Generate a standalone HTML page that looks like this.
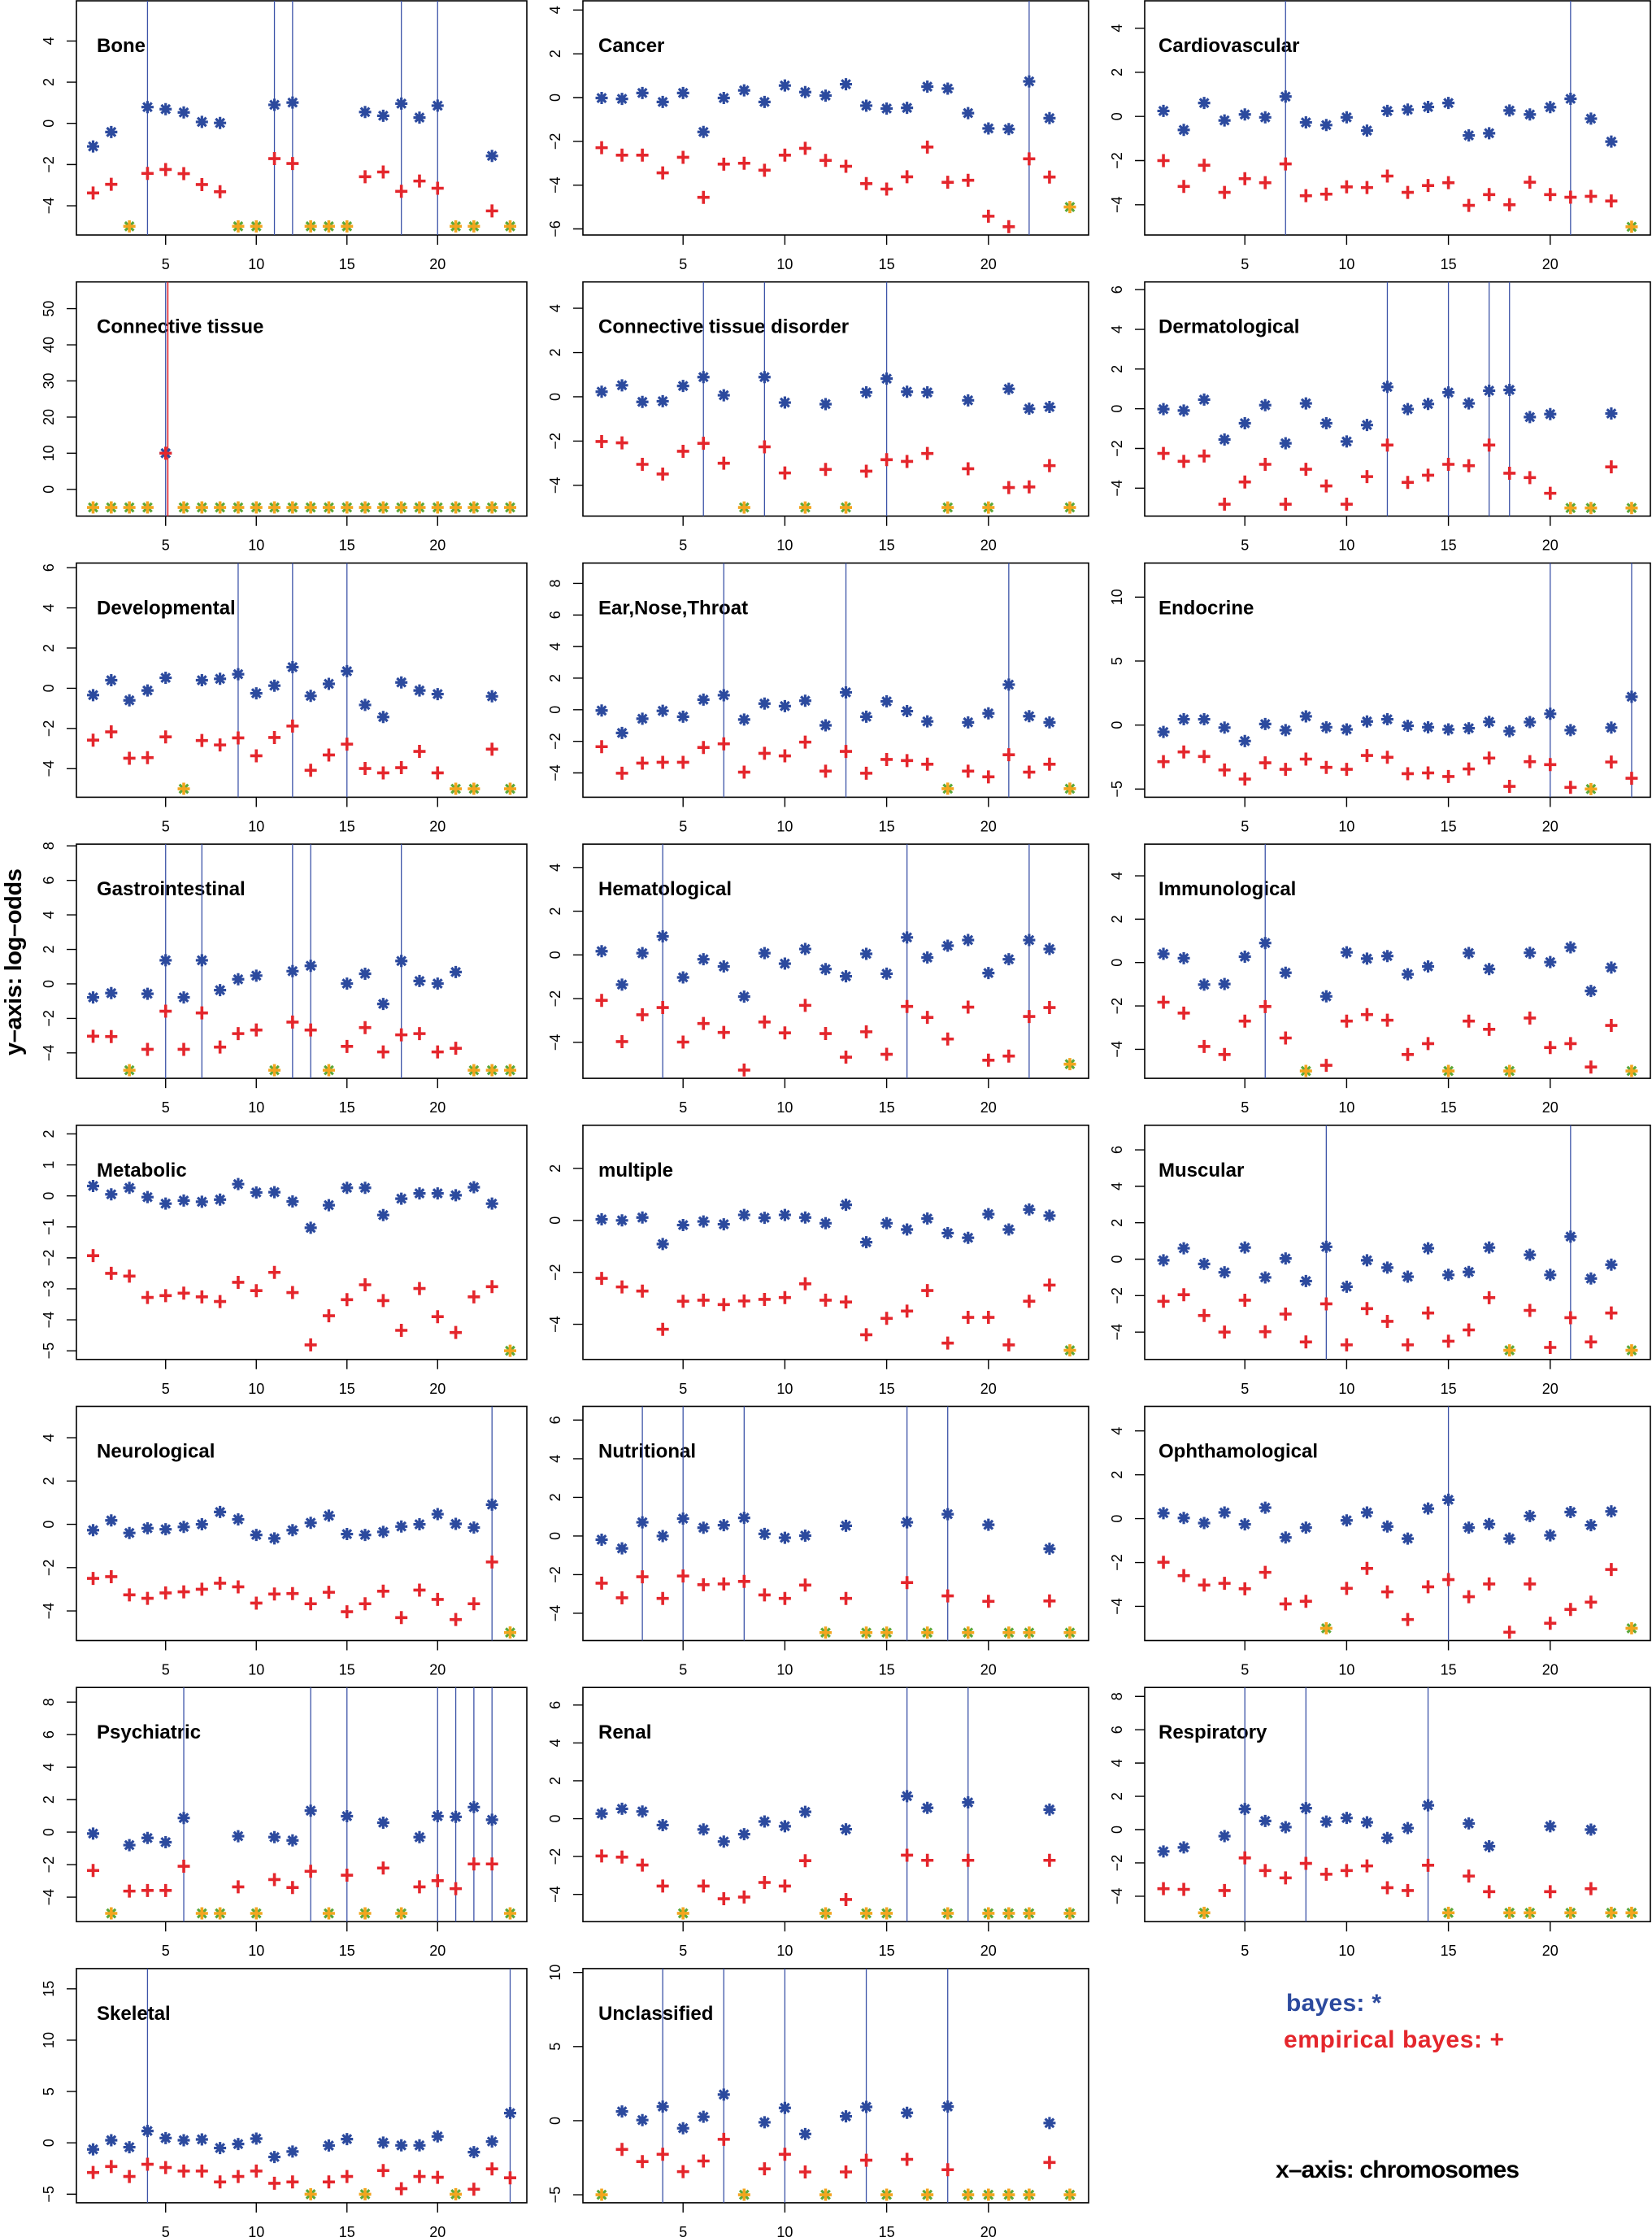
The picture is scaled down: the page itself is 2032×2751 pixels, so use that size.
<!DOCTYPE html>
<html><head><meta charset="utf-8"><style>
html,body{margin:0;padding:0;background:#fff}
svg{display:block}
text{font-family:"Liberation Sans",Arial,Helvetica,sans-serif;fill:#000}
.bx{fill:none;stroke:#000;stroke-width:1.6}
.tk{stroke:#000;stroke-width:1.4;fill:none}
.xl{font-size:18px;text-anchor:middle}
.yl{font-size:18px;text-anchor:middle}
.tt{font-size:24px;font-weight:bold}
.vl{stroke:#3D54A8;stroke-width:1.3;vector-effect:non-scaling-stroke;fill:none}
.vr{stroke:#E4262C;stroke-width:1.6;vector-effect:non-scaling-stroke;fill:none}
</style></head><body>
<svg xmlns="http://www.w3.org/2000/svg" xmlns:xlink="http://www.w3.org/1999/xlink" width="2032" height="2751" viewBox="0 0 2032 2751">
<defs>
<path id="B" d="M-7.5 0H7.5M0-7.5V7.5M-5.3-5.3L5.3 5.3M-5.3 5.3L5.3-5.3" fill="none" stroke="#2C4A9E" stroke-width="3.2"/>
<path id="R" d="M-7.5 0H7.5M0-8V8" fill="none" stroke="#E4262C" stroke-width="3.6"/>
<g id="Y"><path d="M-5.3-5.3L5.3 5.3M-5.3 5.3L5.3-5.3" fill="none" stroke="#5BA83A" stroke-width="3.2"/><path d="M-7.5 0H7.5M0-7.5V7.5" fill="none" stroke="#F3A51E" stroke-width="3.6"/></g>
<g id="b1" transform="scale(0.044838,-0.039479)"><use href="#B"/></g><g id="r1" transform="scale(0.044838,-0.039479)"><use href="#R"/></g><g id="y1" transform="scale(0.044838,-0.039479)"><use href="#Y"/></g>
<g id="b2" transform="scale(0.039936,-0.037153)"><use href="#B"/></g><g id="r2" transform="scale(0.039936,-0.037153)"><use href="#R"/></g><g id="y2" transform="scale(0.039936,-0.037153)"><use href="#Y"/></g>
<g id="b3" transform="scale(0.039936,-0.03684)"><use href="#B"/></g><g id="r3" transform="scale(0.039936,-0.03684)"><use href="#R"/></g><g id="y3" transform="scale(0.039936,-0.03684)"><use href="#Y"/></g>
<g id="b4" transform="scale(0.044838,-0.225)"><use href="#B"/></g><g id="r4" transform="scale(0.044838,-0.225)"><use href="#R"/></g><g id="y4" transform="scale(0.044838,-0.225)"><use href="#Y"/></g>
<g id="b5" transform="scale(0.039936,-0.036736)"><use href="#B"/></g><g id="r5" transform="scale(0.039936,-0.036736)"><use href="#R"/></g><g id="y5" transform="scale(0.039936,-0.036736)"><use href="#Y"/></g>
<g id="b6" transform="scale(0.039936,-0.040972)"><use href="#B"/></g><g id="r6" transform="scale(0.039936,-0.040972)"><use href="#R"/></g><g id="y6" transform="scale(0.039936,-0.040972)"><use href="#Y"/></g>
<g id="b7" transform="scale(0.044838,-0.040451)"><use href="#B"/></g><g id="r7" transform="scale(0.044838,-0.040451)"><use href="#R"/></g><g id="y7" transform="scale(0.044838,-0.040451)"><use href="#Y"/></g>
<g id="b8" transform="scale(0.039936,-0.051493)"><use href="#B"/></g><g id="r8" transform="scale(0.039936,-0.051493)"><use href="#R"/></g><g id="y8" transform="scale(0.039936,-0.051493)"><use href="#Y"/></g>
<g id="b9" transform="scale(0.039936,-0.063542)"><use href="#B"/></g><g id="r9" transform="scale(0.039936,-0.063542)"><use href="#R"/></g><g id="y9" transform="scale(0.039936,-0.063542)"><use href="#Y"/></g>
<g id="b10" transform="scale(0.044838,-0.047118)"><use href="#B"/></g><g id="r10" transform="scale(0.044838,-0.047118)"><use href="#R"/></g><g id="y10" transform="scale(0.044838,-0.047118)"><use href="#Y"/></g>
<g id="b11" transform="scale(0.039936,-0.037222)"><use href="#B"/></g><g id="r11" transform="scale(0.039936,-0.037222)"><use href="#R"/></g><g id="y11" transform="scale(0.039936,-0.037222)"><use href="#Y"/></g>
<g id="b12" transform="scale(0.039936,-0.0375)"><use href="#B"/></g><g id="r12" transform="scale(0.039936,-0.0375)"><use href="#R"/></g><g id="y12" transform="scale(0.039936,-0.0375)"><use href="#Y"/></g>
<g id="b13" transform="scale(0.044838,-0.02625)"><use href="#B"/></g><g id="r13" transform="scale(0.044838,-0.02625)"><use href="#R"/></g><g id="y13" transform="scale(0.044838,-0.02625)"><use href="#Y"/></g>
<g id="b14" transform="scale(0.039936,-0.031285)"><use href="#B"/></g><g id="r14" transform="scale(0.039936,-0.031285)"><use href="#R"/></g><g id="y14" transform="scale(0.039936,-0.031285)"><use href="#Y"/></g>
<g id="b15" transform="scale(0.039936,-0.044618)"><use href="#B"/></g><g id="r15" transform="scale(0.039936,-0.044618)"><use href="#R"/></g><g id="y15" transform="scale(0.039936,-0.044618)"><use href="#Y"/></g>
<g id="b16" transform="scale(0.044838,-0.037569)"><use href="#B"/></g><g id="r16" transform="scale(0.044838,-0.037569)"><use href="#R"/></g><g id="y16" transform="scale(0.044838,-0.037569)"><use href="#Y"/></g>
<g id="b17" transform="scale(0.039936,-0.042083)"><use href="#B"/></g><g id="r17" transform="scale(0.039936,-0.042083)"><use href="#R"/></g><g id="y17" transform="scale(0.039936,-0.042083)"><use href="#Y"/></g>
<g id="b18" transform="scale(0.039936,-0.037083)"><use href="#B"/></g><g id="r18" transform="scale(0.039936,-0.037083)"><use href="#R"/></g><g id="y18" transform="scale(0.039936,-0.037083)"><use href="#Y"/></g>
<g id="b19" transform="scale(0.044838,-0.050035)"><use href="#B"/></g><g id="r19" transform="scale(0.044838,-0.050035)"><use href="#R"/></g><g id="y19" transform="scale(0.044838,-0.050035)"><use href="#Y"/></g>
<g id="b20" transform="scale(0.039936,-0.042951)"><use href="#B"/></g><g id="r20" transform="scale(0.039936,-0.042951)"><use href="#R"/></g><g id="y20" transform="scale(0.039936,-0.042951)"><use href="#Y"/></g>
<g id="b21" transform="scale(0.039936,-0.048854)"><use href="#B"/></g><g id="r21" transform="scale(0.039936,-0.048854)"><use href="#R"/></g><g id="y21" transform="scale(0.039936,-0.048854)"><use href="#Y"/></g>
<g id="b22" transform="scale(0.044838,-0.079167)"><use href="#B"/></g><g id="r22" transform="scale(0.044838,-0.079167)"><use href="#R"/></g><g id="y22" transform="scale(0.044838,-0.079167)"><use href="#Y"/></g>
<g id="b23" transform="scale(0.039936,-0.054861)"><use href="#B"/></g><g id="r23" transform="scale(0.039936,-0.054861)"><use href="#R"/></g><g id="y23" transform="scale(0.039936,-0.054861)"><use href="#Y"/></g>
</defs>
<rect x="0" y="0" width="2032" height="2751" fill="#fff"/>

<!-- P1 Bone -->
<g transform="translate(94,1)">
<rect class="bx" width="554" height="288"/>
<path class="tk" d="M109.73 288v12M221.25 288v12M332.76 288v12M444.28 288v12M-12 49.39h12M-12 100.05h12M-12 150.71h12M-12 201.37h12M-12 252.03h12"/>
<text class="xl" x="109.73" y="330">5</text><text class="xl" x="221.25" y="330">10</text><text class="xl" x="332.76" y="330">15</text><text class="xl" x="444.28" y="330">20</text>
<text class="yl" transform="translate(-28,49.39) rotate(-90)">4</text><text class="yl" transform="translate(-28,100.05) rotate(-90)">2</text><text class="yl" transform="translate(-28,150.71) rotate(-90)">0</text><text class="yl" transform="translate(-28,201.37) rotate(-90)">−2</text><text class="yl" transform="translate(-28,252.03) rotate(-90)">−4</text>
<text class="tt" x="25" y="63">Bone</text>
<g transform="matrix(22.303,0,0,-25.33,-1.784,150.71)">
<path class="vl" d="M4 -5.42V5.95M11 -5.42V5.95M12 -5.42V5.95M18 -5.42V5.95M20 -5.42V5.95"/>
<use href="#b1" x="1" y="-1.12"/><use href="#b1" x="2" y="-0.42"/><use href="#b1" x="4" y="0.79"/><use href="#b1" x="5" y="0.69"/><use href="#b1" x="6" y="0.53"/><use href="#b1" x="7" y="0.07"/><use href="#b1" x="8" y="0.02"/><use href="#b1" x="11" y="0.9"/><use href="#b1" x="12" y="1.01"/><use href="#b1" x="16" y="0.55"/><use href="#b1" x="17" y="0.37"/><use href="#b1" x="18" y="0.96"/><use href="#b1" x="19" y="0.28"/><use href="#b1" x="20" y="0.86"/><use href="#b1" x="23" y="-1.58"/>
<use href="#r1" x="1" y="-3.38"/><use href="#r1" x="2" y="-2.96"/><use href="#r1" x="4" y="-2.43"/><use href="#r1" x="5" y="-2.24"/><use href="#r1" x="6" y="-2.44"/><use href="#r1" x="7" y="-2.97"/><use href="#r1" x="8" y="-3.32"/><use href="#r1" x="11" y="-1.71"/><use href="#r1" x="12" y="-1.95"/><use href="#r1" x="16" y="-2.59"/><use href="#r1" x="17" y="-2.36"/><use href="#r1" x="18" y="-3.3"/><use href="#r1" x="19" y="-2.8"/><use href="#r1" x="20" y="-3.15"/><use href="#r1" x="23" y="-4.25"/>
<use href="#y1" x="3" y="-5"/><use href="#y1" x="9" y="-5"/><use href="#y1" x="10" y="-5"/><use href="#y1" x="13" y="-5"/><use href="#y1" x="14" y="-5"/><use href="#y1" x="15" y="-5"/><use href="#y1" x="21" y="-5"/><use href="#y1" x="22" y="-5"/><use href="#y1" x="24" y="-5"/>
</g></g>

<!-- P2 Cancer -->
<g transform="translate(717,1)">
<rect class="bx" width="622" height="288"/>
<path class="tk" d="M123.2 288v12M248.4 288v12M373.6 288v12M498.8 288v12M-12 11.31h12M-12 65.15h12M-12 118.99h12M-12 172.83h12M-12 226.67h12M-12 280.51h12"/>
<text class="xl" x="123.2" y="330">5</text><text class="xl" x="248.4" y="330">10</text><text class="xl" x="373.6" y="330">15</text><text class="xl" x="498.8" y="330">20</text>
<text class="yl" transform="translate(-28,11.31) rotate(-90)">4</text><text class="yl" transform="translate(-28,65.15) rotate(-90)">2</text><text class="yl" transform="translate(-28,118.99) rotate(-90)">0</text><text class="yl" transform="translate(-28,172.83) rotate(-90)">−2</text><text class="yl" transform="translate(-28,226.67) rotate(-90)">−4</text><text class="yl" transform="translate(-28,280.51) rotate(-90)">−6</text>
<text class="tt" x="19" y="63">Cancer</text>
<g transform="matrix(25.04,0,0,-26.916,-2.003,118.99)">
<path class="vl" d="M22 -6.28V4.42"/>
<use href="#b2" x="1" y="-0.02"/><use href="#b2" x="2" y="-0.06"/><use href="#b2" x="3" y="0.21"/><use href="#b2" x="4" y="-0.2"/><use href="#b2" x="5" y="0.21"/><use href="#b2" x="6" y="-1.57"/><use href="#b2" x="7" y="-0.02"/><use href="#b2" x="8" y="0.33"/><use href="#b2" x="9" y="-0.2"/><use href="#b2" x="10" y="0.55"/><use href="#b2" x="11" y="0.25"/><use href="#b2" x="12" y="0.09"/><use href="#b2" x="13" y="0.61"/><use href="#b2" x="14" y="-0.37"/><use href="#b2" x="15" y="-0.5"/><use href="#b2" x="16" y="-0.47"/><use href="#b2" x="17" y="0.5"/><use href="#b2" x="18" y="0.41"/><use href="#b2" x="19" y="-0.71"/><use href="#b2" x="20" y="-1.41"/><use href="#b2" x="21" y="-1.44"/><use href="#b2" x="22" y="0.74"/><use href="#b2" x="23" y="-0.94"/>
<use href="#r2" x="1" y="-2.29"/><use href="#r2" x="2" y="-2.63"/><use href="#r2" x="3" y="-2.63"/><use href="#r2" x="4" y="-3.44"/><use href="#r2" x="5" y="-2.73"/><use href="#r2" x="6" y="-4.56"/><use href="#r2" x="7" y="-3.04"/><use href="#r2" x="8" y="-3"/><use href="#r2" x="9" y="-3.32"/><use href="#r2" x="10" y="-2.63"/><use href="#r2" x="11" y="-2.32"/><use href="#r2" x="12" y="-2.87"/><use href="#r2" x="13" y="-3.14"/><use href="#r2" x="14" y="-3.93"/><use href="#r2" x="15" y="-4.18"/><use href="#r2" x="16" y="-3.62"/><use href="#r2" x="17" y="-2.26"/><use href="#r2" x="18" y="-3.87"/><use href="#r2" x="19" y="-3.78"/><use href="#r2" x="20" y="-5.42"/><use href="#r2" x="21" y="-5.9"/><use href="#r2" x="22" y="-2.8"/><use href="#r2" x="23" y="-3.63"/>
<use href="#y2" x="24" y="-5"/>
</g></g>

<!-- P3 Cardiovascular -->
<g transform="translate(1408,1)">
<rect class="bx" width="622" height="288"/>
<path class="tk" d="M123.2 288v12M248.4 288v12M373.6 288v12M498.8 288v12M-12 33.65h12M-12 87.93h12M-12 142.21h12M-12 196.49h12M-12 250.77h12"/>
<text class="xl" x="123.2" y="330">5</text><text class="xl" x="248.4" y="330">10</text><text class="xl" x="373.6" y="330">15</text><text class="xl" x="498.8" y="330">20</text>
<text class="yl" transform="translate(-28,33.65) rotate(-90)">4</text><text class="yl" transform="translate(-28,87.93) rotate(-90)">2</text><text class="yl" transform="translate(-28,142.21) rotate(-90)">0</text><text class="yl" transform="translate(-28,196.49) rotate(-90)">−2</text><text class="yl" transform="translate(-28,250.77) rotate(-90)">−4</text>
<text class="tt" x="17" y="63">Cardiovascular</text>
<g transform="matrix(25.04,0,0,-27.144,-2.003,142.21)">
<path class="vl" d="M7 -5.37V5.24M21 -5.37V5.24"/>
<use href="#b3" x="1" y="0.25"/><use href="#b3" x="2" y="-0.61"/><use href="#b3" x="3" y="0.61"/><use href="#b3" x="4" y="-0.18"/><use href="#b3" x="5" y="0.09"/><use href="#b3" x="6" y="-0.04"/><use href="#b3" x="7" y="0.9"/><use href="#b3" x="8" y="-0.27"/><use href="#b3" x="9" y="-0.39"/><use href="#b3" x="10" y="-0.04"/><use href="#b3" x="11" y="-0.64"/><use href="#b3" x="12" y="0.25"/><use href="#b3" x="13" y="0.31"/><use href="#b3" x="14" y="0.43"/><use href="#b3" x="15" y="0.61"/><use href="#b3" x="16" y="-0.86"/><use href="#b3" x="17" y="-0.76"/><use href="#b3" x="18" y="0.27"/><use href="#b3" x="19" y="0.09"/><use href="#b3" x="20" y="0.42"/><use href="#b3" x="21" y="0.8"/><use href="#b3" x="22" y="-0.1"/><use href="#b3" x="23" y="-1.14"/>
<use href="#r3" x="1" y="-2"/><use href="#r3" x="2" y="-3.17"/><use href="#r3" x="3" y="-2.21"/><use href="#r3" x="4" y="-3.44"/><use href="#r3" x="5" y="-2.82"/><use href="#r3" x="6" y="-3"/><use href="#r3" x="7" y="-2.15"/><use href="#r3" x="8" y="-3.59"/><use href="#r3" x="9" y="-3.52"/><use href="#r3" x="10" y="-3.19"/><use href="#r3" x="11" y="-3.22"/><use href="#r3" x="12" y="-2.7"/><use href="#r3" x="13" y="-3.44"/><use href="#r3" x="14" y="-3.13"/><use href="#r3" x="15" y="-3"/><use href="#r3" x="16" y="-4.03"/><use href="#r3" x="17" y="-3.54"/><use href="#r3" x="18" y="-4"/><use href="#r3" x="19" y="-2.98"/><use href="#r3" x="20" y="-3.54"/><use href="#r3" x="21" y="-3.66"/><use href="#r3" x="22" y="-3.62"/><use href="#r3" x="23" y="-3.83"/>
<use href="#y3" x="24" y="-5"/>
</g></g>

<!-- P4 Connective tissue -->
<g transform="translate(94,346.7)">
<rect class="bx" width="554" height="288"/>
<path class="tk" d="M109.73 288v12M221.25 288v12M332.76 288v12M444.28 288v12M-12 32.89h12M-12 77.33h12M-12 121.77h12M-12 166.21h12M-12 210.65h12M-12 255.09h12"/>
<text class="xl" x="109.73" y="330">5</text><text class="xl" x="221.25" y="330">10</text><text class="xl" x="332.76" y="330">15</text><text class="xl" x="444.28" y="330">20</text>
<text class="yl" transform="translate(-28,32.89) rotate(-90)">50</text><text class="yl" transform="translate(-28,77.33) rotate(-90)">40</text><text class="yl" transform="translate(-28,121.77) rotate(-90)">30</text><text class="yl" transform="translate(-28,166.21) rotate(-90)">20</text><text class="yl" transform="translate(-28,210.65) rotate(-90)">10</text><text class="yl" transform="translate(-28,255.09) rotate(-90)">0</text>
<text class="tt" x="25" y="63">Connective tissue</text>
<g transform="matrix(22.303,0,0,-4.4444,-1.784,255.11)">
<path class="vl" d="M5 -7.4V57.4"/>
<path class="vr" d="M5.12 -7.4V57.4"/>
<use href="#b4" x="5" y="10"/><use href="#r4" x="5" y="10"/>
<use href="#y4" x="1" y="-5"/><use href="#y4" x="2" y="-5"/><use href="#y4" x="3" y="-5"/><use href="#y4" x="4" y="-5"/><use href="#y4" x="6" y="-5"/><use href="#y4" x="7" y="-5"/><use href="#y4" x="8" y="-5"/><use href="#y4" x="9" y="-5"/><use href="#y4" x="10" y="-5"/><use href="#y4" x="11" y="-5"/><use href="#y4" x="12" y="-5"/><use href="#y4" x="13" y="-5"/><use href="#y4" x="14" y="-5"/><use href="#y4" x="15" y="-5"/><use href="#y4" x="16" y="-5"/><use href="#y4" x="17" y="-5"/><use href="#y4" x="18" y="-5"/><use href="#y4" x="19" y="-5"/><use href="#y4" x="20" y="-5"/><use href="#y4" x="21" y="-5"/><use href="#y4" x="22" y="-5"/><use href="#y4" x="23" y="-5"/><use href="#y4" x="24" y="-5"/>
</g></g>

<!-- P5 Connective tissue disorder -->
<g transform="translate(717,346.7)">
<rect class="bx" width="622" height="288"/>
<path class="tk" d="M123.2 288v12M248.4 288v12M373.6 288v12M498.8 288v12M-12 32.39h12M-12 86.83h12M-12 141.27h12M-12 195.71h12M-12 250.15h12"/>
<text class="xl" x="123.2" y="330">5</text><text class="xl" x="248.4" y="330">10</text><text class="xl" x="373.6" y="330">15</text><text class="xl" x="498.8" y="330">20</text>
<text class="yl" transform="translate(-28,32.39) rotate(-90)">4</text><text class="yl" transform="translate(-28,86.83) rotate(-90)">2</text><text class="yl" transform="translate(-28,141.27) rotate(-90)">0</text><text class="yl" transform="translate(-28,195.71) rotate(-90)">−2</text><text class="yl" transform="translate(-28,250.15) rotate(-90)">−4</text>
<text class="tt" x="19" y="63">Connective tissue disorder</text>
<g transform="matrix(25.04,0,0,-27.221,-2.003,141.28)">
<path class="vl" d="M6 -5.39V5.19M9 -5.39V5.19M15 -5.39V5.19"/>
<use href="#b5" x="1" y="0.23"/><use href="#b5" x="2" y="0.52"/><use href="#b5" x="3" y="-0.23"/><use href="#b5" x="4" y="-0.2"/><use href="#b5" x="5" y="0.49"/><use href="#b5" x="6" y="0.89"/><use href="#b5" x="7" y="0.07"/><use href="#b5" x="9" y="0.89"/><use href="#b5" x="10" y="-0.26"/><use href="#b5" x="12" y="-0.33"/><use href="#b5" x="14" y="0.2"/><use href="#b5" x="15" y="0.82"/><use href="#b5" x="16" y="0.23"/><use href="#b5" x="17" y="0.2"/><use href="#b5" x="19" y="-0.16"/><use href="#b5" x="21" y="0.36"/><use href="#b5" x="22" y="-0.54"/><use href="#b5" x="23" y="-0.46"/>
<use href="#r5" x="1" y="-2.02"/><use href="#r5" x="2" y="-2.08"/><use href="#r5" x="3" y="-3.05"/><use href="#r5" x="4" y="-3.49"/><use href="#r5" x="5" y="-2.46"/><use href="#r5" x="6" y="-2.1"/><use href="#r5" x="7" y="-3"/><use href="#r5" x="9" y="-2.26"/><use href="#r5" x="10" y="-3.44"/><use href="#r5" x="12" y="-3.28"/><use href="#r5" x="14" y="-3.36"/><use href="#r5" x="15" y="-2.84"/><use href="#r5" x="16" y="-2.92"/><use href="#r5" x="17" y="-2.56"/><use href="#r5" x="19" y="-3.25"/><use href="#r5" x="21" y="-4.1"/><use href="#r5" x="22" y="-4.07"/><use href="#r5" x="23" y="-3.11"/>
<use href="#y5" x="8" y="-5"/><use href="#y5" x="11" y="-5"/><use href="#y5" x="13" y="-5"/><use href="#y5" x="18" y="-5"/><use href="#y5" x="20" y="-5"/><use href="#y5" x="24" y="-5"/>
</g></g>

<!-- P6 Dermatological -->
<g transform="translate(1408,346.7)">
<rect class="bx" width="622" height="288"/>
<path class="tk" d="M123.2 288v12M248.4 288v12M373.6 288v12M498.8 288v12M-12 9.52h12M-12 58.34h12M-12 107.16h12M-12 155.98h12M-12 204.8h12M-12 253.62h12"/>
<text class="xl" x="123.2" y="330">5</text><text class="xl" x="248.4" y="330">10</text><text class="xl" x="373.6" y="330">15</text><text class="xl" x="498.8" y="330">20</text>
<text class="yl" transform="translate(-28,9.52) rotate(-90)">6</text><text class="yl" transform="translate(-28,58.34) rotate(-90)">4</text><text class="yl" transform="translate(-28,107.16) rotate(-90)">2</text><text class="yl" transform="translate(-28,155.98) rotate(-90)">0</text><text class="yl" transform="translate(-28,204.8) rotate(-90)">−2</text><text class="yl" transform="translate(-28,253.62) rotate(-90)">−4</text>
<text class="tt" x="17" y="63">Dermatological</text>
<g transform="matrix(25.04,0,0,-24.407,-2.003,155.96)">
<path class="vl" d="M12 -5.41V6.39M15 -5.41V6.39M17 -5.41V6.39M18 -5.41V6.39"/>
<use href="#b6" x="1" y="-0.02"/><use href="#b6" x="2" y="-0.09"/><use href="#b6" x="3" y="0.46"/><use href="#b6" x="4" y="-1.55"/><use href="#b6" x="5" y="-0.73"/><use href="#b6" x="6" y="0.18"/><use href="#b6" x="7" y="-1.74"/><use href="#b6" x="8" y="0.27"/><use href="#b6" x="9" y="-0.73"/><use href="#b6" x="10" y="-1.65"/><use href="#b6" x="11" y="-0.82"/><use href="#b6" x="12" y="1.1"/><use href="#b6" x="13" y="-0.02"/><use href="#b6" x="14" y="0.24"/><use href="#b6" x="15" y="0.82"/><use href="#b6" x="16" y="0.27"/><use href="#b6" x="17" y="0.91"/><use href="#b6" x="18" y="0.95"/><use href="#b6" x="19" y="-0.42"/><use href="#b6" x="20" y="-0.27"/><use href="#b6" x="23" y="-0.24"/>
<use href="#r6" x="1" y="-2.25"/><use href="#r6" x="2" y="-2.65"/><use href="#r6" x="3" y="-2.38"/><use href="#r6" x="4" y="-4.81"/><use href="#r6" x="5" y="-3.69"/><use href="#r6" x="6" y="-2.8"/><use href="#r6" x="7" y="-4.81"/><use href="#r6" x="8" y="-3.05"/><use href="#r6" x="9" y="-3.89"/><use href="#r6" x="10" y="-4.81"/><use href="#r6" x="11" y="-3.42"/><use href="#r6" x="12" y="-1.83"/><use href="#r6" x="13" y="-3.71"/><use href="#r6" x="14" y="-3.35"/><use href="#r6" x="15" y="-2.8"/><use href="#r6" x="16" y="-2.87"/><use href="#r6" x="17" y="-1.83"/><use href="#r6" x="18" y="-3.25"/><use href="#r6" x="19" y="-3.47"/><use href="#r6" x="20" y="-4.26"/><use href="#r6" x="23" y="-2.93"/>
<use href="#y6" x="21" y="-5"/><use href="#y6" x="22" y="-5"/><use href="#y6" x="24" y="-5"/>
</g></g>

<!-- P7 Developmental -->
<g transform="translate(94,692.4)">
<rect class="bx" width="554" height="288"/>
<path class="tk" d="M109.73 288v12M221.25 288v12M332.76 288v12M444.28 288v12M-12 5.69h12M-12 55.13h12M-12 104.57h12M-12 154.01h12M-12 203.45h12M-12 252.89h12"/>
<text class="xl" x="109.73" y="330">5</text><text class="xl" x="221.25" y="330">10</text><text class="xl" x="332.76" y="330">15</text><text class="xl" x="444.28" y="330">20</text>
<text class="yl" transform="translate(-28,5.69) rotate(-90)">6</text><text class="yl" transform="translate(-28,55.13) rotate(-90)">4</text><text class="yl" transform="translate(-28,104.57) rotate(-90)">2</text><text class="yl" transform="translate(-28,154.01) rotate(-90)">0</text><text class="yl" transform="translate(-28,203.45) rotate(-90)">−2</text><text class="yl" transform="translate(-28,252.89) rotate(-90)">−4</text>
<text class="tt" x="25" y="63">Developmental</text>
<g transform="matrix(22.303,0,0,-24.721,-1.784,154.01)">
<path class="vl" d="M9 -5.42V6.23M12 -5.42V6.23M15 -5.42V6.23"/>
<use href="#b7" x="1" y="-0.34"/><use href="#b7" x="2" y="0.4"/><use href="#b7" x="3" y="-0.6"/><use href="#b7" x="4" y="-0.11"/><use href="#b7" x="5" y="0.52"/><use href="#b7" x="7" y="0.4"/><use href="#b7" x="8" y="0.47"/><use href="#b7" x="9" y="0.7"/><use href="#b7" x="10" y="-0.25"/><use href="#b7" x="11" y="0.13"/><use href="#b7" x="12" y="1.05"/><use href="#b7" x="13" y="-0.38"/><use href="#b7" x="14" y="0.22"/><use href="#b7" x="15" y="0.85"/><use href="#b7" x="16" y="-0.83"/><use href="#b7" x="17" y="-1.43"/><use href="#b7" x="18" y="0.29"/><use href="#b7" x="19" y="-0.11"/><use href="#b7" x="20" y="-0.29"/><use href="#b7" x="23" y="-0.4"/>
<use href="#r7" x="1" y="-2.58"/><use href="#r7" x="2" y="-2.17"/><use href="#r7" x="3" y="-3.48"/><use href="#r7" x="4" y="-3.45"/><use href="#r7" x="5" y="-2.42"/><use href="#r7" x="7" y="-2.6"/><use href="#r7" x="8" y="-2.82"/><use href="#r7" x="9" y="-2.47"/><use href="#r7" x="10" y="-3.36"/><use href="#r7" x="11" y="-2.45"/><use href="#r7" x="12" y="-1.88"/><use href="#r7" x="13" y="-4.08"/><use href="#r7" x="14" y="-3.32"/><use href="#r7" x="15" y="-2.78"/><use href="#r7" x="16" y="-3.99"/><use href="#r7" x="17" y="-4.21"/><use href="#r7" x="18" y="-3.95"/><use href="#r7" x="19" y="-3.14"/><use href="#r7" x="20" y="-4.21"/><use href="#r7" x="23" y="-3.03"/>
<use href="#y7" x="6" y="-5"/><use href="#y7" x="21" y="-5"/><use href="#y7" x="22" y="-5"/><use href="#y7" x="24" y="-5"/>
</g></g>

<!-- P8 Ear,Nose,Throat -->
<g transform="translate(717,692.4)">
<rect class="bx" width="622" height="288"/>
<path class="tk" d="M123.2 288v12M248.4 288v12M373.6 288v12M498.8 288v12M-12 25.05h12M-12 63.89h12M-12 102.73h12M-12 141.57h12M-12 180.41h12M-12 219.25h12M-12 258.09h12"/>
<text class="xl" x="123.2" y="330">5</text><text class="xl" x="248.4" y="330">10</text><text class="xl" x="373.6" y="330">15</text><text class="xl" x="498.8" y="330">20</text>
<text class="yl" transform="translate(-28,25.05) rotate(-90)">8</text><text class="yl" transform="translate(-28,63.89) rotate(-90)">6</text><text class="yl" transform="translate(-28,102.73) rotate(-90)">4</text><text class="yl" transform="translate(-28,141.57) rotate(-90)">2</text><text class="yl" transform="translate(-28,180.41) rotate(-90)">0</text><text class="yl" transform="translate(-28,219.25) rotate(-90)">−2</text><text class="yl" transform="translate(-28,258.09) rotate(-90)">−4</text>
<text class="tt" x="19" y="63">Ear,Nose,Throat</text>
<g transform="matrix(25.04,0,0,-19.42,-2.003,180.41)">
<path class="vl" d="M7 -5.54V9.29M13 -5.54V9.29M21 -5.54V9.29"/>
<use href="#b8" x="1" y="-0.05"/><use href="#b8" x="2" y="-1.47"/><use href="#b8" x="3" y="-0.57"/><use href="#b8" x="4" y="-0.07"/><use href="#b8" x="5" y="-0.44"/><use href="#b8" x="6" y="0.64"/><use href="#b8" x="7" y="0.92"/><use href="#b8" x="8" y="-0.62"/><use href="#b8" x="9" y="0.39"/><use href="#b8" x="10" y="0.23"/><use href="#b8" x="11" y="0.57"/><use href="#b8" x="12" y="-0.99"/><use href="#b8" x="13" y="1.1"/><use href="#b8" x="14" y="-0.44"/><use href="#b8" x="15" y="0.53"/><use href="#b8" x="16" y="-0.09"/><use href="#b8" x="17" y="-0.74"/><use href="#b8" x="19" y="-0.8"/><use href="#b8" x="20" y="-0.23"/><use href="#b8" x="21" y="1.59"/><use href="#b8" x="22" y="-0.41"/><use href="#b8" x="23" y="-0.8"/>
<use href="#r8" x="1" y="-2.34"/><use href="#r8" x="2" y="-4.02"/><use href="#r8" x="3" y="-3.38"/><use href="#r8" x="4" y="-3.33"/><use href="#r8" x="5" y="-3.33"/><use href="#r8" x="6" y="-2.39"/><use href="#r8" x="7" y="-2.16"/><use href="#r8" x="8" y="-3.95"/><use href="#r8" x="9" y="-2.76"/><use href="#r8" x="10" y="-2.92"/><use href="#r8" x="11" y="-2.05"/><use href="#r8" x="12" y="-3.89"/><use href="#r8" x="13" y="-2.64"/><use href="#r8" x="14" y="-4.02"/><use href="#r8" x="15" y="-3.15"/><use href="#r8" x="16" y="-3.22"/><use href="#r8" x="17" y="-3.45"/><use href="#r8" x="19" y="-3.89"/><use href="#r8" x="20" y="-4.25"/><use href="#r8" x="21" y="-2.85"/><use href="#r8" x="22" y="-3.95"/><use href="#r8" x="23" y="-3.45"/>
<use href="#y8" x="18" y="-5"/><use href="#y8" x="24" y="-5"/>
</g></g>

<!-- P9 Endocrine -->
<g transform="translate(1408,692.4)">
<rect class="bx" width="622" height="288"/>
<path class="tk" d="M123.2 288v12M248.4 288v12M373.6 288v12M498.8 288v12M-12 41.87h12M-12 120.57h12M-12 199.27h12M-12 277.97h12"/>
<text class="xl" x="123.2" y="330">5</text><text class="xl" x="248.4" y="330">10</text><text class="xl" x="373.6" y="330">15</text><text class="xl" x="498.8" y="330">20</text>
<text class="yl" transform="translate(-28,41.87) rotate(-90)">10</text><text class="yl" transform="translate(-28,120.57) rotate(-90)">5</text><text class="yl" transform="translate(-28,199.27) rotate(-90)">0</text><text class="yl" transform="translate(-28,277.97) rotate(-90)">−5</text>
<text class="tt" x="17" y="63">Endocrine</text>
<g transform="matrix(25.04,0,0,-15.738,-2.003,199.24)">
<path class="vl" d="M20 -5.64V12.66M24 -5.64V12.66"/>
<use href="#b9" x="1" y="-0.54"/><use href="#b9" x="2" y="0.45"/><use href="#b9" x="3" y="0.45"/><use href="#b9" x="4" y="-0.2"/><use href="#b9" x="5" y="-1.25"/><use href="#b9" x="6" y="0.08"/><use href="#b9" x="7" y="-0.4"/><use href="#b9" x="8" y="0.68"/><use href="#b9" x="9" y="-0.17"/><use href="#b9" x="10" y="-0.34"/><use href="#b9" x="11" y="0.28"/><use href="#b9" x="12" y="0.45"/><use href="#b9" x="13" y="-0.06"/><use href="#b9" x="14" y="-0.17"/><use href="#b9" x="15" y="-0.34"/><use href="#b9" x="16" y="-0.25"/><use href="#b9" x="17" y="0.25"/><use href="#b9" x="18" y="-0.48"/><use href="#b9" x="19" y="0.23"/><use href="#b9" x="20" y="0.88"/><use href="#b9" x="21" y="-0.4"/><use href="#b9" x="23" y="-0.2"/><use href="#b9" x="24" y="2.21"/>
<use href="#r9" x="1" y="-2.86"/><use href="#r9" x="2" y="-2.1"/><use href="#r9" x="3" y="-2.46"/><use href="#r9" x="4" y="-3.51"/><use href="#r9" x="5" y="-4.22"/><use href="#r9" x="6" y="-2.95"/><use href="#r9" x="7" y="-3.46"/><use href="#r9" x="8" y="-2.66"/><use href="#r9" x="9" y="-3.31"/><use href="#r9" x="10" y="-3.46"/><use href="#r9" x="11" y="-2.38"/><use href="#r9" x="12" y="-2.52"/><use href="#r9" x="13" y="-3.8"/><use href="#r9" x="14" y="-3.74"/><use href="#r9" x="15" y="-4.02"/><use href="#r9" x="16" y="-3.43"/><use href="#r9" x="17" y="-2.58"/><use href="#r9" x="18" y="-4.79"/><use href="#r9" x="19" y="-2.86"/><use href="#r9" x="20" y="-3.09"/><use href="#r9" x="21" y="-4.87"/><use href="#r9" x="23" y="-2.89"/><use href="#r9" x="24" y="-4.16"/>
<use href="#y9" x="22" y="-5"/>
</g></g>

<!-- P10 Gastrointestinal -->
<g transform="translate(94,1038.1)">
<rect class="bx" width="554" height="288"/>
<path class="tk" d="M109.73 288v12M221.25 288v12M332.76 288v12M444.28 288v12M-12 2.12h12M-12 44.56h12M-12 87h12M-12 129.44h12M-12 171.88h12M-12 214.32h12M-12 256.76h12"/>
<text class="xl" x="109.73" y="330">5</text><text class="xl" x="221.25" y="330">10</text><text class="xl" x="332.76" y="330">15</text><text class="xl" x="444.28" y="330">20</text>
<text class="yl" transform="translate(-28,2.12) rotate(-90)">8</text><text class="yl" transform="translate(-28,44.56) rotate(-90)">6</text><text class="yl" transform="translate(-28,87) rotate(-90)">4</text><text class="yl" transform="translate(-28,129.44) rotate(-90)">2</text><text class="yl" transform="translate(-28,171.88) rotate(-90)">0</text><text class="yl" transform="translate(-28,214.32) rotate(-90)">−2</text><text class="yl" transform="translate(-28,256.76) rotate(-90)">−4</text>
<text class="tt" x="25" y="63">Gastrointestinal</text>
<g transform="matrix(22.303,0,0,-21.223,-1.784,171.91)">
<path class="vl" d="M5 -5.47V8.1M7 -5.47V8.1M12 -5.47V8.1M13 -5.47V8.1M18 -5.47V8.1"/>
<use href="#b10" x="1" y="-0.78"/><use href="#b10" x="2" y="-0.53"/><use href="#b10" x="4" y="-0.57"/><use href="#b10" x="5" y="1.37"/><use href="#b10" x="6" y="-0.78"/><use href="#b10" x="7" y="1.37"/><use href="#b10" x="8" y="-0.36"/><use href="#b10" x="9" y="0.27"/><use href="#b10" x="10" y="0.48"/><use href="#b10" x="12" y="0.74"/><use href="#b10" x="13" y="1.05"/><use href="#b10" x="15" y="0.02"/><use href="#b10" x="16" y="0.59"/><use href="#b10" x="17" y="-1.16"/><use href="#b10" x="18" y="1.33"/><use href="#b10" x="19" y="0.17"/><use href="#b10" x="20" y="0.02"/><use href="#b10" x="21" y="0.69"/>
<use href="#r10" x="1" y="-3.03"/><use href="#r10" x="2" y="-3.05"/><use href="#r10" x="4" y="-3.79"/><use href="#r10" x="5" y="-1.58"/><use href="#r10" x="6" y="-3.79"/><use href="#r10" x="7" y="-1.68"/><use href="#r10" x="8" y="-3.66"/><use href="#r10" x="9" y="-2.88"/><use href="#r10" x="10" y="-2.67"/><use href="#r10" x="12" y="-2.21"/><use href="#r10" x="13" y="-2.67"/><use href="#r10" x="15" y="-3.62"/><use href="#r10" x="16" y="-2.53"/><use href="#r10" x="17" y="-3.94"/><use href="#r10" x="18" y="-2.95"/><use href="#r10" x="19" y="-2.88"/><use href="#r10" x="20" y="-3.94"/><use href="#r10" x="21" y="-3.73"/>
<use href="#y10" x="3" y="-5"/><use href="#y10" x="11" y="-5"/><use href="#y10" x="14" y="-5"/><use href="#y10" x="22" y="-5"/><use href="#y10" x="23" y="-5"/><use href="#y10" x="24" y="-5"/>
</g></g>

<!-- P11 Hematological -->
<g transform="translate(717,1038.1)">
<rect class="bx" width="622" height="288"/>
<path class="tk" d="M123.2 288v12M248.4 288v12M373.6 288v12M498.8 288v12M-12 28.75h12M-12 82.49h12M-12 136.23h12M-12 189.97h12M-12 243.71h12"/>
<text class="xl" x="123.2" y="330">5</text><text class="xl" x="248.4" y="330">10</text><text class="xl" x="373.6" y="330">15</text><text class="xl" x="498.8" y="330">20</text>
<text class="yl" transform="translate(-28,28.75) rotate(-90)">4</text><text class="yl" transform="translate(-28,82.49) rotate(-90)">2</text><text class="yl" transform="translate(-28,136.23) rotate(-90)">0</text><text class="yl" transform="translate(-28,189.97) rotate(-90)">−2</text><text class="yl" transform="translate(-28,243.71) rotate(-90)">−4</text>
<text class="tt" x="19" y="63">Hematological</text>
<g transform="matrix(25.04,0,0,-26.866,-2.003,136.21)">
<path class="vl" d="M4 -5.65V5.07M16 -5.65V5.07M22 -5.65V5.07"/>
<use href="#b11" x="1" y="0.17"/><use href="#b11" x="2" y="-1.36"/><use href="#b11" x="3" y="0.08"/><use href="#b11" x="4" y="0.85"/><use href="#b11" x="5" y="-1.03"/><use href="#b11" x="6" y="-0.2"/><use href="#b11" x="7" y="-0.53"/><use href="#b11" x="8" y="-1.91"/><use href="#b11" x="9" y="0.08"/><use href="#b11" x="10" y="-0.4"/><use href="#b11" x="11" y="0.27"/><use href="#b11" x="12" y="-0.65"/><use href="#b11" x="13" y="-0.98"/><use href="#b11" x="14" y="0.05"/><use href="#b11" x="15" y="-0.86"/><use href="#b11" x="16" y="0.8"/><use href="#b11" x="17" y="-0.12"/><use href="#b11" x="18" y="0.42"/><use href="#b11" x="19" y="0.68"/><use href="#b11" x="20" y="-0.83"/><use href="#b11" x="21" y="-0.2"/><use href="#b11" x="22" y="0.68"/><use href="#b11" x="23" y="0.27"/>
<use href="#r11" x="1" y="-2.08"/><use href="#r11" x="2" y="-3.97"/><use href="#r11" x="3" y="-2.74"/><use href="#r11" x="4" y="-2.41"/><use href="#r11" x="5" y="-3.99"/><use href="#r11" x="6" y="-3.14"/><use href="#r11" x="7" y="-3.55"/><use href="#r11" x="8" y="-5.27"/><use href="#r11" x="9" y="-3.07"/><use href="#r11" x="10" y="-3.57"/><use href="#r11" x="11" y="-2.31"/><use href="#r11" x="12" y="-3.6"/><use href="#r11" x="13" y="-4.68"/><use href="#r11" x="14" y="-3.52"/><use href="#r11" x="15" y="-4.55"/><use href="#r11" x="16" y="-2.36"/><use href="#r11" x="17" y="-2.86"/><use href="#r11" x="18" y="-3.85"/><use href="#r11" x="19" y="-2.39"/><use href="#r11" x="20" y="-4.82"/><use href="#r11" x="21" y="-4.63"/><use href="#r11" x="22" y="-2.82"/><use href="#r11" x="23" y="-2.41"/>
<use href="#y11" x="24" y="-5"/>
</g></g>

<!-- P12 Immunological -->
<g transform="translate(1408,1038.1)">
<rect class="bx" width="622" height="288"/>
<path class="tk" d="M123.2 288v12M248.4 288v12M373.6 288v12M498.8 288v12M-12 38.94h12M-12 92.28h12M-12 145.62h12M-12 198.96h12M-12 252.3h12"/>
<text class="xl" x="123.2" y="330">5</text><text class="xl" x="248.4" y="330">10</text><text class="xl" x="373.6" y="330">15</text><text class="xl" x="498.8" y="330">20</text>
<text class="yl" transform="translate(-28,38.94) rotate(-90)">4</text><text class="yl" transform="translate(-28,92.28) rotate(-90)">2</text><text class="yl" transform="translate(-28,145.62) rotate(-90)">0</text><text class="yl" transform="translate(-28,198.96) rotate(-90)">−2</text><text class="yl" transform="translate(-28,252.3) rotate(-90)">−4</text>
<text class="tt" x="17" y="63">Immunological</text>
<g transform="matrix(25.04,0,0,-26.667,-2.003,145.6)">
<path class="vl" d="M6 -5.34V5.46"/>
<use href="#b12" x="1" y="0.4"/><use href="#b12" x="2" y="0.2"/><use href="#b12" x="3" y="-1.02"/><use href="#b12" x="4" y="-0.99"/><use href="#b12" x="5" y="0.27"/><use href="#b12" x="6" y="0.9"/><use href="#b12" x="7" y="-0.47"/><use href="#b12" x="9" y="-1.56"/><use href="#b12" x="10" y="0.47"/><use href="#b12" x="11" y="0.18"/><use href="#b12" x="12" y="0.3"/><use href="#b12" x="13" y="-0.54"/><use href="#b12" x="14" y="-0.18"/><use href="#b12" x="16" y="0.44"/><use href="#b12" x="17" y="-0.3"/><use href="#b12" x="19" y="0.45"/><use href="#b12" x="20" y="0.02"/><use href="#b12" x="21" y="0.7"/><use href="#b12" x="22" y="-1.31"/><use href="#b12" x="23" y="-0.23"/>
<use href="#r12" x="1" y="-1.83"/><use href="#r12" x="2" y="-2.33"/><use href="#r12" x="3" y="-3.87"/><use href="#r12" x="4" y="-4.24"/><use href="#r12" x="5" y="-2.7"/><use href="#r12" x="6" y="-2.03"/><use href="#r12" x="7" y="-3.48"/><use href="#r12" x="9" y="-4.74"/><use href="#r12" x="10" y="-2.7"/><use href="#r12" x="11" y="-2.4"/><use href="#r12" x="12" y="-2.66"/><use href="#r12" x="13" y="-4.24"/><use href="#r12" x="14" y="-3.74"/><use href="#r12" x="16" y="-2.7"/><use href="#r12" x="17" y="-3.08"/><use href="#r12" x="19" y="-2.56"/><use href="#r12" x="20" y="-3.92"/><use href="#r12" x="21" y="-3.74"/><use href="#r12" x="22" y="-4.82"/><use href="#r12" x="23" y="-2.9"/>
<use href="#y12" x="8" y="-5"/><use href="#y12" x="15" y="-5"/><use href="#y12" x="18" y="-5"/><use href="#y12" x="24" y="-5"/>
</g></g>

<!-- P13 Metabolic -->
<g transform="translate(94,1383.8)">
<rect class="bx" width="554" height="288"/>
<path class="tk" d="M109.73 288v12M221.25 288v12M332.76 288v12M444.28 288v12M-12 10.67h12M-12 48.77h12M-12 86.87h12M-12 124.97h12M-12 163.07h12M-12 201.17h12M-12 239.27h12M-12 277.37h12"/>
<text class="xl" x="109.73" y="330">5</text><text class="xl" x="221.25" y="330">10</text><text class="xl" x="332.76" y="330">15</text><text class="xl" x="444.28" y="330">20</text>
<text class="yl" transform="translate(-28,10.67) rotate(-90)">2</text><text class="yl" transform="translate(-28,48.77) rotate(-90)">1</text><text class="yl" transform="translate(-28,86.87) rotate(-90)">0</text><text class="yl" transform="translate(-28,124.97) rotate(-90)">−1</text><text class="yl" transform="translate(-28,163.07) rotate(-90)">−2</text><text class="yl" transform="translate(-28,201.17) rotate(-90)">−3</text><text class="yl" transform="translate(-28,239.27) rotate(-90)">−4</text><text class="yl" transform="translate(-28,277.37) rotate(-90)">−5</text>
<text class="tt" x="25" y="63">Metabolic</text>
<g transform="matrix(22.303,0,0,-38.095,-1.784,86.86)">
<use href="#b13" x="1" y="0.32"/><use href="#b13" x="2" y="0.05"/><use href="#b13" x="3" y="0.26"/><use href="#b13" x="4" y="-0.04"/><use href="#b13" x="5" y="-0.25"/><use href="#b13" x="6" y="-0.15"/><use href="#b13" x="7" y="-0.19"/><use href="#b13" x="8" y="-0.12"/><use href="#b13" x="9" y="0.38"/><use href="#b13" x="10" y="0.11"/><use href="#b13" x="11" y="0.12"/><use href="#b13" x="12" y="-0.18"/><use href="#b13" x="13" y="-1.03"/><use href="#b13" x="14" y="-0.3"/><use href="#b13" x="15" y="0.26"/><use href="#b13" x="16" y="0.26"/><use href="#b13" x="17" y="-0.62"/><use href="#b13" x="18" y="-0.09"/><use href="#b13" x="19" y="0.08"/><use href="#b13" x="20" y="0.08"/><use href="#b13" x="21" y="0.02"/><use href="#b13" x="22" y="0.28"/><use href="#b13" x="23" y="-0.25"/>
<use href="#r13" x="1" y="-1.93"/><use href="#r13" x="2" y="-2.5"/><use href="#r13" x="3" y="-2.59"/><use href="#r13" x="4" y="-3.28"/><use href="#r13" x="5" y="-3.22"/><use href="#r13" x="6" y="-3.14"/><use href="#r13" x="7" y="-3.26"/><use href="#r13" x="8" y="-3.41"/><use href="#r13" x="9" y="-2.79"/><use href="#r13" x="10" y="-3.06"/><use href="#r13" x="11" y="-2.47"/><use href="#r13" x="12" y="-3.12"/><use href="#r13" x="13" y="-4.81"/><use href="#r13" x="14" y="-3.87"/><use href="#r13" x="15" y="-3.35"/><use href="#r13" x="16" y="-2.87"/><use href="#r13" x="17" y="-3.38"/><use href="#r13" x="18" y="-4.34"/><use href="#r13" x="19" y="-2.99"/><use href="#r13" x="20" y="-3.9"/><use href="#r13" x="21" y="-4.41"/><use href="#r13" x="22" y="-3.26"/><use href="#r13" x="23" y="-2.93"/>
<use href="#y13" x="24" y="-5"/>
</g></g>

<!-- P14 multiple -->
<g transform="translate(717,1383.8)">
<rect class="bx" width="622" height="288"/>
<path class="tk" d="M123.2 288v12M248.4 288v12M373.6 288v12M498.8 288v12M-12 53.05h12M-12 116.97h12M-12 180.89h12M-12 244.81h12"/>
<text class="xl" x="123.2" y="330">5</text><text class="xl" x="248.4" y="330">10</text><text class="xl" x="373.6" y="330">15</text><text class="xl" x="498.8" y="330">20</text>
<text class="yl" transform="translate(-28,53.05) rotate(-90)">2</text><text class="yl" transform="translate(-28,116.97) rotate(-90)">0</text><text class="yl" transform="translate(-28,180.89) rotate(-90)">−2</text><text class="yl" transform="translate(-28,244.81) rotate(-90)">−4</text>
<text class="tt" x="19" y="63">multiple</text>
<g transform="matrix(25.04,0,0,-31.964,-2.003,116.99)">
<use href="#b14" x="1" y="0.04"/><use href="#b14" x="2" y="0"/><use href="#b14" x="3" y="0.11"/><use href="#b14" x="4" y="-0.91"/><use href="#b14" x="5" y="-0.18"/><use href="#b14" x="6" y="-0.04"/><use href="#b14" x="7" y="-0.15"/><use href="#b14" x="8" y="0.21"/><use href="#b14" x="9" y="0.1"/><use href="#b14" x="10" y="0.21"/><use href="#b14" x="11" y="0.11"/><use href="#b14" x="12" y="-0.11"/><use href="#b14" x="13" y="0.6"/><use href="#b14" x="14" y="-0.84"/><use href="#b14" x="15" y="-0.11"/><use href="#b14" x="16" y="-0.35"/><use href="#b14" x="17" y="0.07"/><use href="#b14" x="18" y="-0.49"/><use href="#b14" x="19" y="-0.67"/><use href="#b14" x="20" y="0.24"/><use href="#b14" x="21" y="-0.35"/><use href="#b14" x="22" y="0.42"/><use href="#b14" x="23" y="0.18"/>
<use href="#r14" x="1" y="-2.23"/><use href="#r14" x="2" y="-2.56"/><use href="#r14" x="3" y="-2.72"/><use href="#r14" x="4" y="-4.19"/><use href="#r14" x="5" y="-3.11"/><use href="#r14" x="6" y="-3.07"/><use href="#r14" x="7" y="-3.24"/><use href="#r14" x="8" y="-3.1"/><use href="#r14" x="9" y="-3.04"/><use href="#r14" x="10" y="-2.97"/><use href="#r14" x="11" y="-2.44"/><use href="#r14" x="12" y="-3.07"/><use href="#r14" x="13" y="-3.14"/><use href="#r14" x="14" y="-4.4"/><use href="#r14" x="15" y="-3.77"/><use href="#r14" x="16" y="-3.49"/><use href="#r14" x="17" y="-2.7"/><use href="#r14" x="18" y="-4.72"/><use href="#r14" x="19" y="-3.73"/><use href="#r14" x="20" y="-3.73"/><use href="#r14" x="21" y="-4.79"/><use href="#r14" x="22" y="-3.11"/><use href="#r14" x="23" y="-2.49"/>
<use href="#y14" x="24" y="-5"/>
</g></g>

<!-- P15 Muscular -->
<g transform="translate(1408,1383.8)">
<rect class="bx" width="622" height="288"/>
<path class="tk" d="M123.2 288v12M248.4 288v12M373.6 288v12M498.8 288v12M-12 30.25h12M-12 75.07h12M-12 119.89h12M-12 164.71h12M-12 209.53h12M-12 254.35h12"/>
<text class="xl" x="123.2" y="330">5</text><text class="xl" x="248.4" y="330">10</text><text class="xl" x="373.6" y="330">15</text><text class="xl" x="498.8" y="330">20</text>
<text class="yl" transform="translate(-28,30.25) rotate(-90)">6</text><text class="yl" transform="translate(-28,75.07) rotate(-90)">4</text><text class="yl" transform="translate(-28,119.89) rotate(-90)">2</text><text class="yl" transform="translate(-28,164.71) rotate(-90)">0</text><text class="yl" transform="translate(-28,209.53) rotate(-90)">−2</text><text class="yl" transform="translate(-28,254.35) rotate(-90)">−4</text>
<text class="tt" x="17" y="63">Muscular</text>
<g transform="matrix(25.04,0,0,-22.412,-2.003,164.73)">
<path class="vl" d="M9 -5.5V7.35M21 -5.5V7.35"/>
<use href="#b15" x="1" y="-0.06"/><use href="#b15" x="2" y="0.6"/><use href="#b15" x="3" y="-0.26"/><use href="#b15" x="4" y="-0.72"/><use href="#b15" x="5" y="0.64"/><use href="#b15" x="6" y="-1"/><use href="#b15" x="7" y="0.04"/><use href="#b15" x="8" y="-1.2"/><use href="#b15" x="9" y="0.68"/><use href="#b15" x="10" y="-1.51"/><use href="#b15" x="11" y="-0.06"/><use href="#b15" x="12" y="-0.46"/><use href="#b15" x="13" y="-0.96"/><use href="#b15" x="14" y="0.6"/><use href="#b15" x="15" y="-0.86"/><use href="#b15" x="16" y="-0.7"/><use href="#b15" x="17" y="0.64"/><use href="#b15" x="19" y="0.24"/><use href="#b15" x="20" y="-0.86"/><use href="#b15" x="21" y="1.24"/><use href="#b15" x="22" y="-1.06"/><use href="#b15" x="23" y="-0.3"/>
<use href="#r15" x="1" y="-2.31"/><use href="#r15" x="2" y="-1.95"/><use href="#r15" x="3" y="-3.09"/><use href="#r15" x="4" y="-4"/><use href="#r15" x="5" y="-2.25"/><use href="#r15" x="6" y="-3.98"/><use href="#r15" x="7" y="-3.01"/><use href="#r15" x="8" y="-4.54"/><use href="#r15" x="9" y="-2.45"/><use href="#r15" x="10" y="-4.7"/><use href="#r15" x="11" y="-2.71"/><use href="#r15" x="12" y="-3.41"/><use href="#r15" x="13" y="-4.7"/><use href="#r15" x="14" y="-2.95"/><use href="#r15" x="15" y="-4.5"/><use href="#r15" x="16" y="-3.88"/><use href="#r15" x="17" y="-2.11"/><use href="#r15" x="19" y="-2.81"/><use href="#r15" x="20" y="-4.84"/><use href="#r15" x="21" y="-3.21"/><use href="#r15" x="22" y="-4.54"/><use href="#r15" x="23" y="-2.95"/>
<use href="#y15" x="18" y="-5"/><use href="#y15" x="24" y="-5"/>
</g></g>

<!-- P16 Neurological -->
<g transform="translate(94,1729.5)">
<rect class="bx" width="554" height="288"/>
<path class="tk" d="M109.73 288v12M221.25 288v12M332.76 288v12M444.28 288v12M-12 38.6h12M-12 91.84h12M-12 145.08h12M-12 198.32h12M-12 251.56h12"/>
<text class="xl" x="109.73" y="330">5</text><text class="xl" x="221.25" y="330">10</text><text class="xl" x="332.76" y="330">15</text><text class="xl" x="444.28" y="330">20</text>
<text class="yl" transform="translate(-28,38.6) rotate(-90)">4</text><text class="yl" transform="translate(-28,91.84) rotate(-90)">2</text><text class="yl" transform="translate(-28,145.08) rotate(-90)">0</text><text class="yl" transform="translate(-28,198.32) rotate(-90)">−2</text><text class="yl" transform="translate(-28,251.56) rotate(-90)">−4</text>
<text class="tt" x="25" y="63">Neurological</text>
<g transform="matrix(22.303,0,0,-26.617,-1.784,145.06)">
<path class="vl" d="M23 -5.37V5.45"/>
<use href="#b16" x="1" y="-0.27"/><use href="#b16" x="2" y="0.18"/><use href="#b16" x="3" y="-0.4"/><use href="#b16" x="4" y="-0.18"/><use href="#b16" x="5" y="-0.23"/><use href="#b16" x="6" y="-0.12"/><use href="#b16" x="7" y="0"/><use href="#b16" x="8" y="0.57"/><use href="#b16" x="9" y="0.23"/><use href="#b16" x="10" y="-0.49"/><use href="#b16" x="11" y="-0.65"/><use href="#b16" x="12" y="-0.27"/><use href="#b16" x="13" y="0.07"/><use href="#b16" x="14" y="0.4"/><use href="#b16" x="15" y="-0.45"/><use href="#b16" x="16" y="-0.49"/><use href="#b16" x="17" y="-0.35"/><use href="#b16" x="18" y="-0.1"/><use href="#b16" x="19" y="0"/><use href="#b16" x="20" y="0.47"/><use href="#b16" x="21" y="0.02"/><use href="#b16" x="22" y="-0.15"/><use href="#b16" x="23" y="0.91"/>
<use href="#r16" x="1" y="-2.5"/><use href="#r16" x="2" y="-2.42"/><use href="#r16" x="3" y="-3.26"/><use href="#r16" x="4" y="-3.42"/><use href="#r16" x="5" y="-3.17"/><use href="#r16" x="6" y="-3.12"/><use href="#r16" x="7" y="-3"/><use href="#r16" x="8" y="-2.72"/><use href="#r16" x="9" y="-2.89"/><use href="#r16" x="10" y="-3.64"/><use href="#r16" x="11" y="-3.22"/><use href="#r16" x="12" y="-3.2"/><use href="#r16" x="13" y="-3.67"/><use href="#r16" x="14" y="-3.14"/><use href="#r16" x="15" y="-4.04"/><use href="#r16" x="16" y="-3.67"/><use href="#r16" x="17" y="-3.09"/><use href="#r16" x="18" y="-4.31"/><use href="#r16" x="19" y="-3.04"/><use href="#r16" x="20" y="-3.47"/><use href="#r16" x="21" y="-4.4"/><use href="#r16" x="22" y="-3.67"/><use href="#r16" x="23" y="-1.74"/>
<use href="#y16" x="24" y="-5"/>
</g></g>

<!-- P17 Nutritional -->
<g transform="translate(717,1729.5)">
<rect class="bx" width="622" height="288"/>
<path class="tk" d="M123.2 288v12M248.4 288v12M373.6 288v12M498.8 288v12M-12 16.87h12M-12 64.39h12M-12 111.91h12M-12 159.43h12M-12 206.95h12M-12 254.47h12"/>
<text class="xl" x="123.2" y="330">5</text><text class="xl" x="248.4" y="330">10</text><text class="xl" x="373.6" y="330">15</text><text class="xl" x="498.8" y="330">20</text>
<text class="yl" transform="translate(-28,16.87) rotate(-90)">6</text><text class="yl" transform="translate(-28,64.39) rotate(-90)">4</text><text class="yl" transform="translate(-28,111.91) rotate(-90)">2</text><text class="yl" transform="translate(-28,159.43) rotate(-90)">0</text><text class="yl" transform="translate(-28,206.95) rotate(-90)">−2</text><text class="yl" transform="translate(-28,254.47) rotate(-90)">−4</text>
<text class="tt" x="19" y="63">Nutritional</text>
<g transform="matrix(25.04,0,0,-23.762,-2.003,159.44)">
<path class="vl" d="M3 -5.41V6.71M5 -5.41V6.71M8 -5.41V6.71M16 -5.41V6.71M18 -5.41V6.71"/>
<use href="#b17" x="1" y="-0.19"/><use href="#b17" x="2" y="-0.64"/><use href="#b17" x="3" y="0.71"/><use href="#b17" x="4" y="0"/><use href="#b17" x="5" y="0.9"/><use href="#b17" x="6" y="0.43"/><use href="#b17" x="7" y="0.56"/><use href="#b17" x="8" y="0.94"/><use href="#b17" x="9" y="0.11"/><use href="#b17" x="10" y="-0.09"/><use href="#b17" x="11" y="0.02"/><use href="#b17" x="13" y="0.53"/><use href="#b17" x="16" y="0.71"/><use href="#b17" x="18" y="1.13"/><use href="#b17" x="20" y="0.58"/><use href="#b17" x="23" y="-0.66"/>
<use href="#r17" x="1" y="-2.44"/><use href="#r17" x="2" y="-3.2"/><use href="#r17" x="3" y="-2.11"/><use href="#r17" x="4" y="-3.23"/><use href="#r17" x="5" y="-2.07"/><use href="#r17" x="6" y="-2.52"/><use href="#r17" x="7" y="-2.48"/><use href="#r17" x="8" y="-2.35"/><use href="#r17" x="9" y="-3.05"/><use href="#r17" x="10" y="-3.23"/><use href="#r17" x="11" y="-2.54"/><use href="#r17" x="13" y="-3.23"/><use href="#r17" x="16" y="-2.41"/><use href="#r17" x="18" y="-3.1"/><use href="#r17" x="20" y="-3.38"/><use href="#r17" x="23" y="-3.36"/>
<use href="#y17" x="12" y="-5"/><use href="#y17" x="14" y="-5"/><use href="#y17" x="15" y="-5"/><use href="#y17" x="17" y="-5"/><use href="#y17" x="19" y="-5"/><use href="#y17" x="21" y="-5"/><use href="#y17" x="22" y="-5"/><use href="#y17" x="24" y="-5"/>
</g></g>

<!-- P18 Ophthamological -->
<g transform="translate(1408,1729.5)">
<rect class="bx" width="622" height="288"/>
<path class="tk" d="M123.2 288v12M248.4 288v12M373.6 288v12M498.8 288v12M-12 30.21h12M-12 84.15h12M-12 138.09h12M-12 192.03h12M-12 245.97h12"/>
<text class="xl" x="123.2" y="330">5</text><text class="xl" x="248.4" y="330">10</text><text class="xl" x="373.6" y="330">15</text><text class="xl" x="498.8" y="330">20</text>
<text class="yl" transform="translate(-28,30.21) rotate(-90)">4</text><text class="yl" transform="translate(-28,84.15) rotate(-90)">2</text><text class="yl" transform="translate(-28,138.09) rotate(-90)">0</text><text class="yl" transform="translate(-28,192.03) rotate(-90)">−2</text><text class="yl" transform="translate(-28,245.97) rotate(-90)">−4</text>
<text class="tt" x="17" y="63">Ophthamological</text>
<g transform="matrix(25.04,0,0,-26.966,-2.003,138.07)">
<path class="vl" d="M15 -5.56V5.12"/>
<use href="#b18" x="1" y="0.25"/><use href="#b18" x="2" y="0.03"/><use href="#b18" x="3" y="-0.2"/><use href="#b18" x="4" y="0.28"/><use href="#b18" x="5" y="-0.26"/><use href="#b18" x="6" y="0.5"/><use href="#b18" x="7" y="-0.86"/><use href="#b18" x="8" y="-0.41"/><use href="#b18" x="10" y="-0.08"/><use href="#b18" x="11" y="0.28"/><use href="#b18" x="12" y="-0.36"/><use href="#b18" x="13" y="-0.91"/><use href="#b18" x="14" y="0.46"/><use href="#b18" x="15" y="0.86"/><use href="#b18" x="16" y="-0.41"/><use href="#b18" x="17" y="-0.25"/><use href="#b18" x="18" y="-0.91"/><use href="#b18" x="19" y="0.12"/><use href="#b18" x="20" y="-0.76"/><use href="#b18" x="21" y="0.3"/><use href="#b18" x="22" y="-0.3"/><use href="#b18" x="23" y="0.33"/>
<use href="#r18" x="1" y="-1.99"/><use href="#r18" x="2" y="-2.6"/><use href="#r18" x="3" y="-3.03"/><use href="#r18" x="4" y="-2.95"/><use href="#r18" x="5" y="-3.2"/><use href="#r18" x="6" y="-2.45"/><use href="#r18" x="7" y="-3.89"/><use href="#r18" x="8" y="-3.77"/><use href="#r18" x="10" y="-3.18"/><use href="#r18" x="11" y="-2.27"/><use href="#r18" x="12" y="-3.34"/><use href="#r18" x="13" y="-4.6"/><use href="#r18" x="14" y="-3.11"/><use href="#r18" x="15" y="-2.78"/><use href="#r18" x="16" y="-3.56"/><use href="#r18" x="17" y="-2.98"/><use href="#r18" x="18" y="-5.18"/><use href="#r18" x="19" y="-2.98"/><use href="#r18" x="20" y="-4.77"/><use href="#r18" x="21" y="-4.14"/><use href="#r18" x="22" y="-3.81"/><use href="#r18" x="23" y="-2.32"/>
<use href="#y18" x="9" y="-5"/><use href="#y18" x="24" y="-5"/>
</g></g>

<!-- P19 Psychiatric -->
<g transform="translate(94,2075.2)">
<rect class="bx" width="554" height="288"/>
<path class="tk" d="M109.73 288v12M221.25 288v12M332.76 288v12M444.28 288v12M-12 17.99h12M-12 57.97h12M-12 97.95h12M-12 137.93h12M-12 177.91h12M-12 217.89h12M-12 257.87h12"/>
<text class="xl" x="109.73" y="330">5</text><text class="xl" x="221.25" y="330">10</text><text class="xl" x="332.76" y="330">15</text><text class="xl" x="444.28" y="330">20</text>
<text class="yl" transform="translate(-28,17.99) rotate(-90)">8</text><text class="yl" transform="translate(-28,57.97) rotate(-90)">6</text><text class="yl" transform="translate(-28,97.95) rotate(-90)">4</text><text class="yl" transform="translate(-28,137.93) rotate(-90)">2</text><text class="yl" transform="translate(-28,177.91) rotate(-90)">0</text><text class="yl" transform="translate(-28,217.89) rotate(-90)">−2</text><text class="yl" transform="translate(-28,257.87) rotate(-90)">−4</text>
<text class="tt" x="25" y="63">Psychiatric</text>
<g transform="matrix(22.303,0,0,-19.986,-1.784,177.88)">
<path class="vl" d="M6 -5.51V8.9M13 -5.51V8.9M15 -5.51V8.9M20 -5.51V8.9M21 -5.51V8.9M22 -5.51V8.9M23 -5.51V8.9"/>
<use href="#b19" x="1" y="-0.09"/><use href="#b19" x="3" y="-0.8"/><use href="#b19" x="4" y="-0.36"/><use href="#b19" x="5" y="-0.62"/><use href="#b19" x="6" y="0.87"/><use href="#b19" x="9" y="-0.25"/><use href="#b19" x="11" y="-0.31"/><use href="#b19" x="12" y="-0.51"/><use href="#b19" x="13" y="1.32"/><use href="#b19" x="15" y="0.98"/><use href="#b19" x="17" y="0.58"/><use href="#b19" x="19" y="-0.31"/><use href="#b19" x="20" y="0.98"/><use href="#b19" x="21" y="0.94"/><use href="#b19" x="22" y="1.54"/><use href="#b19" x="23" y="0.76"/>
<use href="#r19" x="1" y="-2.36"/><use href="#r19" x="3" y="-3.63"/><use href="#r19" x="4" y="-3.59"/><use href="#r19" x="5" y="-3.59"/><use href="#r19" x="6" y="-2.1"/><use href="#r19" x="9" y="-3.37"/><use href="#r19" x="11" y="-2.92"/><use href="#r19" x="12" y="-3.41"/><use href="#r19" x="13" y="-2.41"/><use href="#r19" x="15" y="-2.65"/><use href="#r19" x="17" y="-2.21"/><use href="#r19" x="19" y="-3.37"/><use href="#r19" x="20" y="-2.99"/><use href="#r19" x="21" y="-3.48"/><use href="#r19" x="22" y="-1.96"/><use href="#r19" x="23" y="-1.96"/>
<use href="#y19" x="2" y="-5"/><use href="#y19" x="7" y="-5"/><use href="#y19" x="8" y="-5"/><use href="#y19" x="10" y="-5"/><use href="#y19" x="14" y="-5"/><use href="#y19" x="16" y="-5"/><use href="#y19" x="18" y="-5"/><use href="#y19" x="24" y="-5"/>
</g></g>

<!-- P20 Renal -->
<g transform="translate(717,2075.2)">
<rect class="bx" width="622" height="288"/>
<path class="tk" d="M123.2 288v12M248.4 288v12M373.6 288v12M498.8 288v12M-12 21.65h12M-12 68.21h12M-12 114.77h12M-12 161.33h12M-12 207.89h12M-12 254.45h12"/>
<text class="xl" x="123.2" y="330">5</text><text class="xl" x="248.4" y="330">10</text><text class="xl" x="373.6" y="330">15</text><text class="xl" x="498.8" y="330">20</text>
<text class="yl" transform="translate(-28,21.65) rotate(-90)">6</text><text class="yl" transform="translate(-28,68.21) rotate(-90)">4</text><text class="yl" transform="translate(-28,114.77) rotate(-90)">2</text><text class="yl" transform="translate(-28,161.33) rotate(-90)">0</text><text class="yl" transform="translate(-28,207.89) rotate(-90)">−2</text><text class="yl" transform="translate(-28,254.45) rotate(-90)">−4</text>
<text class="tt" x="19" y="63">Renal</text>
<g transform="matrix(25.04,0,0,-23.282,-2.003,161.34)">
<path class="vl" d="M16 -5.44V6.93M19 -5.44V6.93"/>
<use href="#b20" x="1" y="0.27"/><use href="#b20" x="2" y="0.52"/><use href="#b20" x="3" y="0.38"/><use href="#b20" x="4" y="-0.34"/><use href="#b20" x="6" y="-0.57"/><use href="#b20" x="7" y="-1.21"/><use href="#b20" x="8" y="-0.82"/><use href="#b20" x="9" y="-0.15"/><use href="#b20" x="10" y="-0.4"/><use href="#b20" x="11" y="0.36"/><use href="#b20" x="13" y="-0.56"/><use href="#b20" x="16" y="1.19"/><use href="#b20" x="17" y="0.57"/><use href="#b20" x="19" y="0.86"/><use href="#b20" x="23" y="0.48"/>
<use href="#r20" x="1" y="-1.97"/><use href="#r20" x="2" y="-2.03"/><use href="#r20" x="3" y="-2.45"/><use href="#r20" x="4" y="-3.56"/><use href="#r20" x="6" y="-3.56"/><use href="#r20" x="7" y="-4.23"/><use href="#r20" x="8" y="-4.14"/><use href="#r20" x="9" y="-3.37"/><use href="#r20" x="10" y="-3.56"/><use href="#r20" x="11" y="-2.22"/><use href="#r20" x="13" y="-4.27"/><use href="#r20" x="16" y="-1.93"/><use href="#r20" x="17" y="-2.2"/><use href="#r20" x="19" y="-2.2"/><use href="#r20" x="23" y="-2.2"/>
<use href="#y20" x="5" y="-5"/><use href="#y20" x="12" y="-5"/><use href="#y20" x="14" y="-5"/><use href="#y20" x="15" y="-5"/><use href="#y20" x="18" y="-5"/><use href="#y20" x="20" y="-5"/><use href="#y20" x="21" y="-5"/><use href="#y20" x="22" y="-5"/><use href="#y20" x="24" y="-5"/>
</g></g>

<!-- P21 Respiratory -->
<g transform="translate(1408,2075.2)">
<rect class="bx" width="622" height="288"/>
<path class="tk" d="M123.2 288v12M248.4 288v12M373.6 288v12M498.8 288v12M-12 11.05h12M-12 51.99h12M-12 92.93h12M-12 133.87h12M-12 174.81h12M-12 215.75h12M-12 256.69h12"/>
<text class="xl" x="123.2" y="330">5</text><text class="xl" x="248.4" y="330">10</text><text class="xl" x="373.6" y="330">15</text><text class="xl" x="498.8" y="330">20</text>
<text class="yl" transform="translate(-28,11.05) rotate(-90)">8</text><text class="yl" transform="translate(-28,51.99) rotate(-90)">6</text><text class="yl" transform="translate(-28,92.93) rotate(-90)">4</text><text class="yl" transform="translate(-28,133.87) rotate(-90)">2</text><text class="yl" transform="translate(-28,174.81) rotate(-90)">0</text><text class="yl" transform="translate(-28,215.75) rotate(-90)">−2</text><text class="yl" transform="translate(-28,256.69) rotate(-90)">−4</text>
<text class="tt" x="17" y="63">Respiratory</text>
<g transform="matrix(25.04,0,0,-20.469,-2.003,174.81)">
<path class="vl" d="M5 -5.53V8.54M8 -5.53V8.54M14 -5.53V8.54"/>
<use href="#b21" x="1" y="-1.31"/><use href="#b21" x="2" y="-1.07"/><use href="#b21" x="4" y="-0.39"/><use href="#b21" x="5" y="1.24"/><use href="#b21" x="6" y="0.52"/><use href="#b21" x="7" y="0.15"/><use href="#b21" x="8" y="1.29"/><use href="#b21" x="9" y="0.48"/><use href="#b21" x="10" y="0.7"/><use href="#b21" x="11" y="0.44"/><use href="#b21" x="12" y="-0.5"/><use href="#b21" x="13" y="0.09"/><use href="#b21" x="14" y="1.46"/><use href="#b21" x="16" y="0.37"/><use href="#b21" x="17" y="-1"/><use href="#b21" x="20" y="0.2"/><use href="#b21" x="22" y="0"/>
<use href="#r21" x="1" y="-3.55"/><use href="#r21" x="2" y="-3.59"/><use href="#r21" x="4" y="-3.66"/><use href="#r21" x="5" y="-1.7"/><use href="#r21" x="6" y="-2.46"/><use href="#r21" x="7" y="-2.9"/><use href="#r21" x="8" y="-2.03"/><use href="#r21" x="9" y="-2.68"/><use href="#r21" x="10" y="-2.46"/><use href="#r21" x="11" y="-2.18"/><use href="#r21" x="12" y="-3.49"/><use href="#r21" x="13" y="-3.66"/><use href="#r21" x="14" y="-2.14"/><use href="#r21" x="16" y="-2.79"/><use href="#r21" x="17" y="-3.73"/><use href="#r21" x="20" y="-3.73"/><use href="#r21" x="22" y="-3.55"/>
<use href="#y21" x="3" y="-5"/><use href="#y21" x="15" y="-5"/><use href="#y21" x="18" y="-5"/><use href="#y21" x="19" y="-5"/><use href="#y21" x="21" y="-5"/><use href="#y21" x="23" y="-5"/><use href="#y21" x="24" y="-5"/>
</g></g>

<!-- P22 Skeletal -->
<g transform="translate(94,2420.9)">
<rect class="bx" width="554" height="288"/>
<path class="tk" d="M109.73 288v12M221.25 288v12M332.76 288v12M444.28 288v12M-12 24.88h12M-12 88.03h12M-12 151.18h12M-12 214.33h12M-12 277.48h12"/>
<text class="xl" x="109.73" y="330">5</text><text class="xl" x="221.25" y="330">10</text><text class="xl" x="332.76" y="330">15</text><text class="xl" x="444.28" y="330">20</text>
<text class="yl" transform="translate(-28,24.88) rotate(-90)">15</text><text class="yl" transform="translate(-28,88.03) rotate(-90)">10</text><text class="yl" transform="translate(-28,151.18) rotate(-90)">5</text><text class="yl" transform="translate(-28,214.33) rotate(-90)">0</text><text class="yl" transform="translate(-28,277.48) rotate(-90)">−5</text>
<text class="tt" x="25" y="63">Skeletal</text>
<g transform="matrix(22.303,0,0,-12.632,-1.784,214.37)">
<path class="vl" d="M4 -5.83V16.97M24 -5.83V16.97"/>
<use href="#b22" x="1" y="-0.63"/><use href="#b22" x="2" y="0.26"/><use href="#b22" x="3" y="-0.42"/><use href="#b22" x="4" y="1.16"/><use href="#b22" x="5" y="0.47"/><use href="#b22" x="6" y="0.26"/><use href="#b22" x="7" y="0.34"/><use href="#b22" x="8" y="-0.5"/><use href="#b22" x="9" y="-0.11"/><use href="#b22" x="10" y="0.42"/><use href="#b22" x="11" y="-1.37"/><use href="#b22" x="12" y="-0.84"/><use href="#b22" x="14" y="-0.26"/><use href="#b22" x="15" y="0.37"/><use href="#b22" x="17" y="0.03"/><use href="#b22" x="18" y="-0.24"/><use href="#b22" x="19" y="-0.24"/><use href="#b22" x="20" y="0.63"/><use href="#b22" x="22" y="-0.9"/><use href="#b22" x="23" y="0.13"/><use href="#b22" x="24" y="2.9"/>
<use href="#r22" x="1" y="-2.88"/><use href="#r22" x="2" y="-2.3"/><use href="#r22" x="3" y="-3.27"/><use href="#r22" x="4" y="-2.08"/><use href="#r22" x="5" y="-2.4"/><use href="#r22" x="6" y="-2.74"/><use href="#r22" x="7" y="-2.74"/><use href="#r22" x="8" y="-3.8"/><use href="#r22" x="9" y="-3.27"/><use href="#r22" x="10" y="-2.74"/><use href="#r22" x="11" y="-3.93"/><use href="#r22" x="12" y="-3.8"/><use href="#r22" x="14" y="-3.8"/><use href="#r22" x="15" y="-3.27"/><use href="#r22" x="17" y="-2.69"/><use href="#r22" x="18" y="-4.46"/><use href="#r22" x="19" y="-3.27"/><use href="#r22" x="20" y="-3.35"/><use href="#r22" x="22" y="-4.51"/><use href="#r22" x="23" y="-2.53"/><use href="#r22" x="24" y="-3.4"/>
<use href="#y22" x="13" y="-5"/><use href="#y22" x="16" y="-5"/><use href="#y22" x="21" y="-5"/>
</g></g>

<!-- P23 Unclassified -->
<g transform="translate(717,2420.9)">
<rect class="bx" width="622" height="288"/>
<path class="tk" d="M123.2 288v12M248.4 288v12M373.6 288v12M498.8 288v12M-12 4.74h12M-12 95.89h12M-12 187.04h12M-12 278.19h12"/>
<text class="xl" x="123.2" y="330">5</text><text class="xl" x="248.4" y="330">10</text><text class="xl" x="373.6" y="330">15</text><text class="xl" x="498.8" y="330">20</text>
<text class="yl" transform="translate(-28,4.74) rotate(-90)">10</text><text class="yl" transform="translate(-28,95.89) rotate(-90)">5</text><text class="yl" transform="translate(-28,187.04) rotate(-90)">0</text><text class="yl" transform="translate(-28,278.19) rotate(-90)">−5</text>
<text class="tt" x="19" y="63">Unclassified</text>
<g transform="matrix(25.04,0,0,-18.228,-2.003,187.02)">
<path class="vl" d="M4 -5.54V10.26M7 -5.54V10.26M10 -5.54V10.26M14 -5.54V10.26M18 -5.54V10.26"/>
<use href="#b23" x="2" y="0.62"/><use href="#b23" x="3" y="0.04"/><use href="#b23" x="4" y="0.95"/><use href="#b23" x="5" y="-0.51"/><use href="#b23" x="6" y="0.26"/><use href="#b23" x="7" y="1.76"/><use href="#b23" x="9" y="-0.11"/><use href="#b23" x="10" y="0.86"/><use href="#b23" x="11" y="-0.9"/><use href="#b23" x="13" y="0.29"/><use href="#b23" x="14" y="0.93"/><use href="#b23" x="16" y="0.53"/><use href="#b23" x="18" y="0.95"/><use href="#b23" x="23" y="-0.16"/>
<use href="#r23" x="2" y="-1.94"/><use href="#r23" x="3" y="-2.76"/><use href="#r23" x="4" y="-2.27"/><use href="#r23" x="5" y="-3.44"/><use href="#r23" x="6" y="-2.72"/><use href="#r23" x="7" y="-1.26"/><use href="#r23" x="9" y="-3.25"/><use href="#r23" x="10" y="-2.27"/><use href="#r23" x="11" y="-3.46"/><use href="#r23" x="13" y="-3.46"/><use href="#r23" x="14" y="-2.67"/><use href="#r23" x="16" y="-2.61"/><use href="#r23" x="18" y="-3.31"/><use href="#r23" x="23" y="-2.82"/>
<use href="#y23" x="1" y="-5"/><use href="#y23" x="8" y="-5"/><use href="#y23" x="12" y="-5"/><use href="#y23" x="15" y="-5"/><use href="#y23" x="17" y="-5"/><use href="#y23" x="19" y="-5"/><use href="#y23" x="20" y="-5"/><use href="#y23" x="21" y="-5"/><use href="#y23" x="22" y="-5"/><use href="#y23" x="24" y="-5"/>
</g></g>

<!-- Legend / axis notes -->
<text x="1582" y="2473" font-size="30" font-weight="bold" style="fill:#2C4A9E" textLength="117">bayes: *</text>
<text x="1579" y="2518" font-size="30" font-weight="bold" style="fill:#E4262C" textLength="271">empirical bayes: +</text>
<text x="1569" y="2678" font-size="30" font-weight="bold" textLength="300">x–axis: chromosomes</text>
<text transform="translate(26,1183) rotate(-90)" text-anchor="middle" font-size="29" font-weight="bold" textLength="230">y–axis: log–odds</text>
</svg>
</body></html>
